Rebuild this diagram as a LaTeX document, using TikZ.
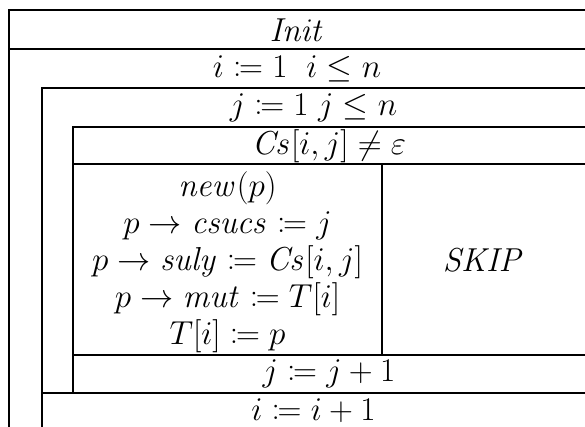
\documentclass[tikz,border=0pt]{standalone}
\usepackage{mathtools}
\begin{document}
\begin{tikzpicture}[x=0.75pt,y=-0.75pt,
  rule/.style={line width=1.2pt},
  lbl/.style={inner sep=0pt,font=\fontsize{23.5}{28}\selectfont},
  body/.style={lbl,align=center,font=\fontsize{23.5}{27.75}\selectfont}]
\useasboundingbox (0,0) rectangle (585,427);
% lines
\draw[rule] (585,10) -- (9,10) -- (9,427);
\draw[rule] (9,49) -- (585,49);
\draw[rule] (585,88) -- (42,88) -- (42,427);
\draw[rule] (585,127) -- (73,127) -- (73,393);
\draw[rule] (73,164) -- (585,164);
\draw[rule] (382,164) -- (382,355);
\draw[rule] (73,355) -- (585,355);
\draw[rule] (42,393) -- (585,393);
% texts
\node[lbl] (init) at (297,30) {$\mathit{Init}$};
\node[lbl] (iloop) at (297,69) {$i \coloneqq 1\ \ i \le n$};
\node[lbl] (jloop) at (313.5,108) {$j \coloneqq 1\ j \le n$};
\node[lbl] (cond) at (329,146) {$\mathit{Cs}[i,j] \neq \varepsilon$};
\node[body] (then) at (227.5,262.5) {$\mathit{new}(p)$\\
  $p \rightarrow \mathit{csucs} \coloneqq j$\\
  $p \rightarrow \mathit{suly} \coloneqq \mathit{Cs}[i,j]$\\
  $p \rightarrow \mathit{mut} \coloneqq T[i]$\\
  $T[i] \coloneqq p$};
\node[lbl] (skip) at (483.5,260) {$\mathit{SKIP}$};
\node[lbl] (jinc) at (329,374) {$j \coloneqq j+1$};
\node[lbl] (iinc) at (313.5,411) {$i \coloneqq i+1$};
\end{tikzpicture}
\end{document}
